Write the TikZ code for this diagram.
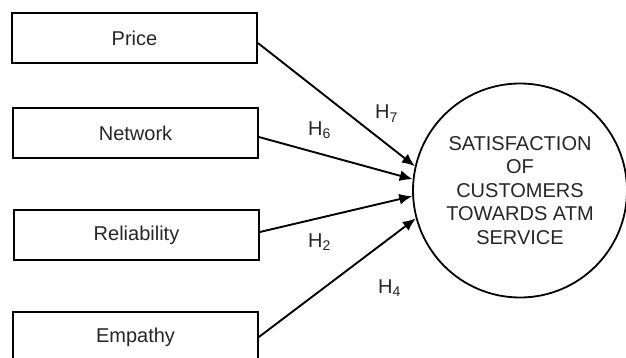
\documentclass[tikz,border=0pt]{standalone}
\usepackage{fontspec}
\setmainfont{Liberation Sans}
\usetikzlibrary{arrows.meta}

\tikzset{
  factor/.style={draw, line width=1.8pt, minimum width=245pt, minimum height=50pt, inner sep=0pt, text=black!85},
  goal/.style={draw, circle, line width=1.8pt, minimum size=214pt, inner sep=0pt, align=center, text=black!85},
  link/.style={line width=1.9pt, -{Latex[length=13pt,width=11pt]}},
  hyp/.style={anchor=base west, inner sep=0pt, text=black!85}
}

\begin{document}
\begin{tikzpicture}[x=1pt,y=-1pt,font=\fontsize{20}{23.5}\selectfont]
				\useasboundingbox (0,0) rectangle (626,358);
				
				\node[factor] (price) at (134.5,38) {Price};
				\node[factor] (network) at (135.5,133) {Network};
				\node[factor] (reliab) at (136.5,235) {Reliability};
				\node[factor] (empathy) at (135.5,337) {Empathy};
				
				\node[goal] (sat) at (520,190.5) {SATISFACTION\\OF\\CUSTOMERS\\TOWARDS ATM\\SERVICE};
				
				\draw[link] ([yshift=-5pt]price.east) -- (sat.167.7);
				\draw[link] ([yshift=-4pt]network.east) -- (sat.174.3);
				\draw[link] ([yshift=3pt]reliab.east) -- (sat.183.5);
				\draw[link] (empathy.east) -- (sat.195);
				
				\node[hyp] (h7) at (375,119) {H\textsubscript{7}};
				\node[hyp] (h6) at (308,135.7) {H\textsubscript{6}};
				\node[hyp] (h2) at (308,247) {H\textsubscript{2}};
				\node[hyp] (h4) at (378,293) {H\textsubscript{4}};
\end{tikzpicture}
\end{document}
